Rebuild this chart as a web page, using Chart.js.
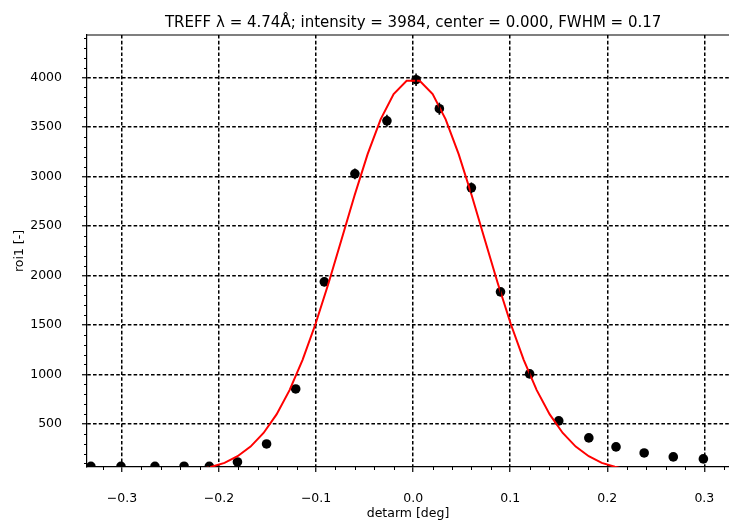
<!DOCTYPE html>
<html>
<head>
<meta charset="utf-8">
<script src="https://cdn.jsdelivr.net/npm/chart.js@4/dist/chart.umd.min.js"></script>
<style>
  html, body { margin: 0; padding: 0; background: #fff; overflow: hidden; }
  canvas { display: block; }
</style>
</head>
<body>
<canvas id="scan" width="729" height="520"></canvas>
<script>
// ===== DATA =====
const titleText = 'TREFF \u03bb = 4.74\u00c5; intensity = 3984, center = 0.000, FWHM = 0.17';

// measured points (detarm, roi1) with error bars
const scanX = [-0.332, -0.301, -0.266, -0.236, -0.210, -0.181, -0.151, -0.121, -0.0915, -0.060, -0.027,
               0.003, 0.027, 0.060, 0.090, 0.120, 0.150, 0.181, 0.209, 0.238, 0.268, 0.299];
const scanY = [70, 70, 70, 72, 70, 115, 297, 853, 1935, 3027, 3563,
               3978, 3685, 2886, 1834, 1005, 530, 358, 267, 206, 166, 146];
const scanErr = [8, 8, 8, 8, 8, 11, 17, 29, 44, 55, 60,
                 63, 61, 54, 43, 32, 23, 19, 16, 14, 13, 12];

// fitted curve as drawn (red)
const fitX = [-0.2345, -0.2211, -0.2077, -0.1943, -0.1809, -0.1675, -0.1541, -0.1407, -0.1273, -0.1139,
              -0.1005, -0.0871, -0.0737, -0.0603, -0.0469, -0.0335, -0.0201, -0.0067,
              0.0067, 0.0201, 0.0335, 0.0469, 0.0603, 0.0737, 0.0871, 0.1005, 0.1139,
              0.1273, 0.1407, 0.1541, 0.1675, 0.1809, 0.1943, 0.2077, 0.2211, 0.2345];
const fitY = [20, 37, 66, 106, 173, 270, 408, 596, 841, 1147,
              1512, 1924, 2366, 2811, 3226, 3577, 3833, 3967,
              3967, 3833, 3577, 3226, 2811, 2366, 1924, 1512, 1147,
              841, 596, 408, 270, 173, 106, 66, 37, 20];

// axes
const xTicks = [-0.3, -0.2, -0.1, 0.0, 0.1, 0.2, 0.3];
const yTicks = [500, 1000, 1500, 2000, 2500, 3000, 3500, 4000];
const xRange = [-0.336, 0.3254];
const yRange = [64, 4430];
const xMinorStep = 0.02;
const yMinorStep = 100;

const FONT = "'DejaVu Sans', sans-serif";

const fmtX = v => {
    const s = Math.abs(v).toFixed(1);
    return v < -1e-9 ? '\u2212' + s : s;
};

// ===== PLUGINS =====
// title, top spine, minor ticks, error bars
const extras = {
    id: 'extras',
    afterDatasetsDraw(chart) {
        const { ctx, chartArea: a, scales: { x, y } } = chart;
        ctx.save();
        ctx.beginPath();
        ctx.rect(a.left, a.top, a.right - a.left, a.bottom - a.top);
        ctx.clip();
        ctx.strokeStyle = '#000';
        ctx.lineWidth = 1.6;
        scanX.forEach((xv, i) => {
            const px = x.getPixelForValue(xv);
            ctx.beginPath();
            ctx.moveTo(px, y.getPixelForValue(scanY[i] - scanErr[i]));
            ctx.lineTo(px, y.getPixelForValue(scanY[i] + scanErr[i]));
            ctx.stroke();
        });
        ctx.restore();
    },
    afterDraw(chart) {
        const { ctx, chartArea: a, scales: { x, y } } = chart;
        ctx.save();
        // top spine
        ctx.strokeStyle = '#000';
        ctx.lineWidth = 1.2;
        ctx.beginPath();
        ctx.moveTo(a.left, a.top);
        ctx.lineTo(a.right, a.top);
        ctx.stroke();

        // minor ticks
        ctx.lineWidth = 1;
        for (let k = -20; k <= 20; k++) {
            if (k % 5 === 0) continue;
            const v = k * xMinorStep;
            if (v < xRange[0] || v > xRange[1]) continue;
            const px = Math.round(x.getPixelForValue(v)) + 0.5;
            ctx.beginPath();
            ctx.moveTo(px, a.bottom);
            ctx.lineTo(px, a.bottom + 3);
            ctx.stroke();
        }
        for (let k = 1; k <= 44; k++) {
            if (k % 5 === 0) continue;
            const v = k * yMinorStep;
            if (v < yRange[0] || v > yRange[1]) continue;
            const py = Math.round(y.getPixelForValue(v)) + 0.5;
            ctx.beginPath();
            ctx.moveTo(a.left - 3, py);
            ctx.lineTo(a.left, py);
            ctx.stroke();
        }

        // title
        ctx.fillStyle = '#000';
        ctx.font = '15px ' + FONT;
        ctx.textAlign = 'center';
        ctx.textBaseline = 'alphabetic';
        ctx.fillText(titleText, x.getPixelForValue(0), 27);
        ctx.restore();
    }
};

// ===== CHART =====
const tickFont = { family: FONT, size: 12.5 };

new Chart(document.getElementById('scan').getContext('2d'), {
    type: 'scatter',
    data: {
        datasets: [
            {
                label: 'fit',
                data: fitX.map((v, i) => ({ x: v, y: fitY[i] })),
                showLine: true,
                borderColor: '#ff0000',
                borderWidth: 2,
                pointRadius: 0,
                fill: false,
                clip: 0
            },
            {
                label: 'roi1',
                data: scanX.map((v, i) => ({ x: v, y: scanY[i] })),
                showLine: false,
                pointRadius: 4.8,
                pointBackgroundColor: '#000',
                pointBorderColor: '#000',
                pointBorderWidth: 0,
                clip: 0
            }
        ]
    },
    options: {
        responsive: false,
        animation: false,
        devicePixelRatio: 1,
        layout: { autoPadding: false, padding: { top: 35, right: 0, left: 0, bottom: 0 } },
        plugins: {
            legend: { display: false },
            tooltip: { enabled: false },
            title: { display: false }
        },
        scales: {
            x: {
                type: 'linear',
                min: xRange[0],
                max: xRange[1],
                afterBuildTicks: s => { s.ticks = xTicks.map(v => ({ value: v })); },
                afterFit: s => { s.height = 53; s.paddingLeft = 0; s.paddingRight = 0; },
                ticks: {
                    autoSkip: false, maxRotation: 0, padding: 19,
                    color: '#000', font: tickFont,
                    callback: v => fmtX(v)
                },
                grid: { color: '#000', lineWidth: 1.5, tickLength: 5, tickColor: '#000', tickWidth: 1.2 },
                border: { display: true, color: '#000', width: 1.2, dash: [3.6, 2.2] },
                title: {
                    display: true, text: 'detarm [deg]', color: '#000',
                    font: { family: FONT, size: 12.5, lineHeight: 1 }, padding: 0
                }
            },
            y: {
                type: 'linear',
                min: yRange[0],
                max: yRange[1],
                afterBuildTicks: s => { s.ticks = yTicks.map(v => ({ value: v })); },
                afterFit: s => { s.width = 87; s.paddingTop = 0; s.paddingBottom = 0; },
                ticks: {
                    autoSkip: false, padding: 20,
                    color: '#000', font: tickFont,
                    callback: v => String(v)
                },
                grid: { color: '#000', lineWidth: 1.5, tickLength: 5, tickColor: '#000', tickWidth: 1.2 },
                border: { display: true, color: '#000', width: 1.2, dash: [3.6, 2.2] },
                title: {
                    display: true, text: 'roi1 [-]', color: '#000',
                    font: { family: FONT, size: 12.5, lineHeight: 1.2 }, padding: { top: 12.5, bottom: 0 }
                }
            }
        }
    },
    plugins: [extras]
});
</script>
</body>
</html>
